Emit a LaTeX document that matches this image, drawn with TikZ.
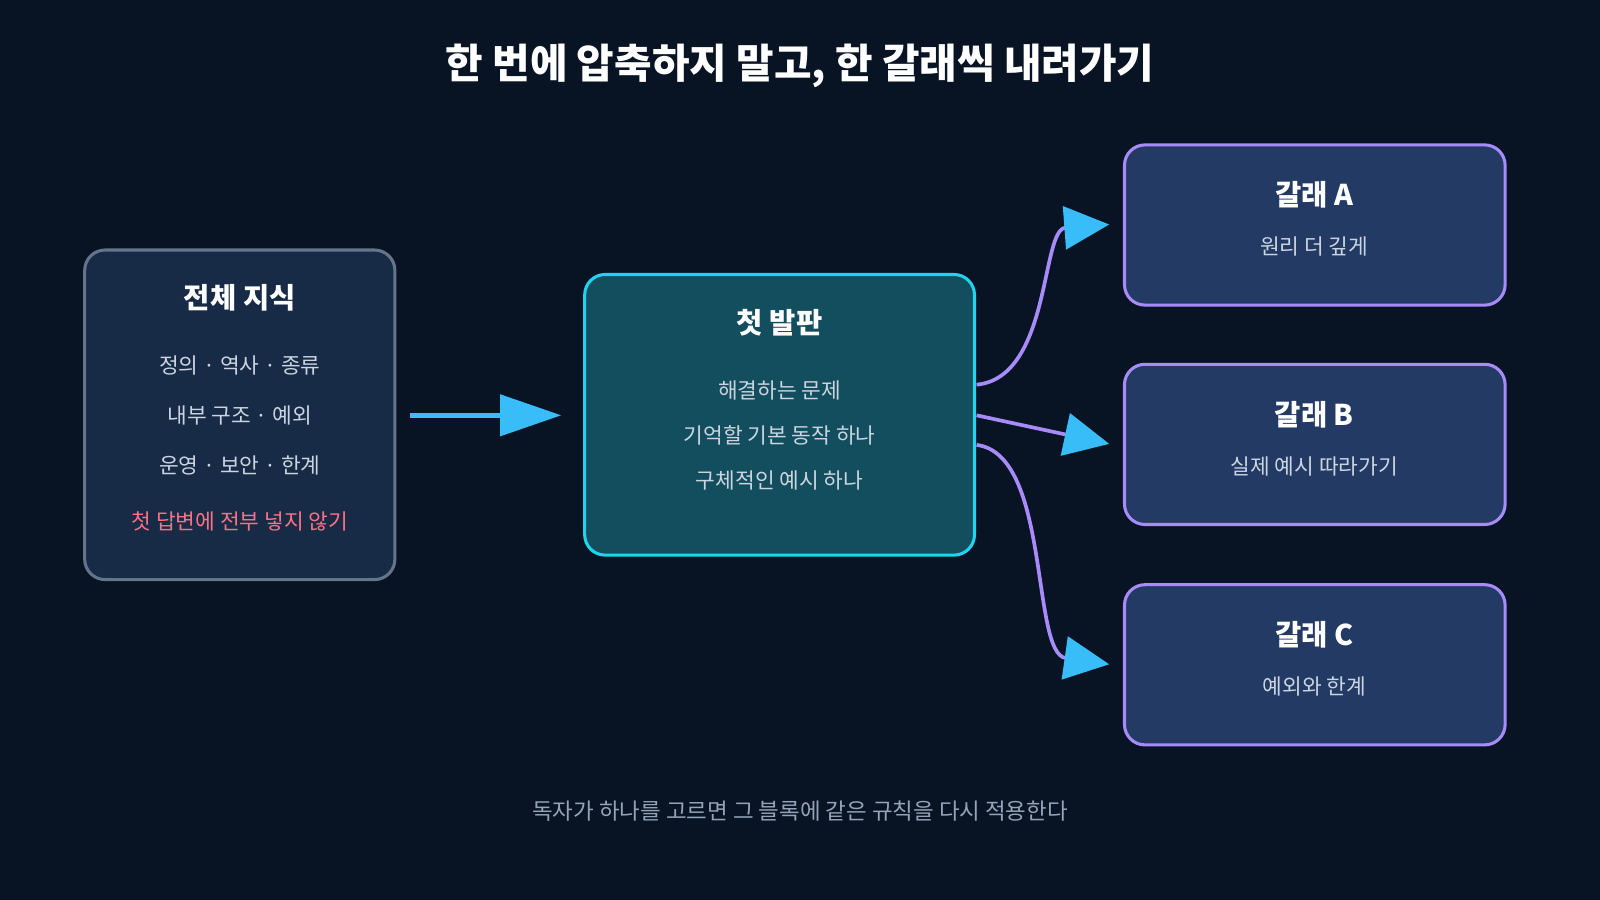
\documentclass[tikz,border=0pt]{standalone}
\usepackage{fontspec}
\setmainfont{Noto Sans CJK KR}
\usetikzlibrary{arrows.meta,positioning}
\definecolor{bgc}{HTML}{081423}
\definecolor{leftfill}{HTML}{172A46}
\definecolor{leftline}{HTML}{64748B}
\definecolor{midfill}{HTML}{134E5E}
\definecolor{midline}{HTML}{22D3EE}
\definecolor{branchfill}{HTML}{233A64}
\definecolor{branchline}{HTML}{A78BFA}
\definecolor{tipc}{HTML}{38BDF8}
\definecolor{subc}{HTML}{CBD5E1}
\definecolor{warnc}{HTML}{FB7185}
\definecolor{footc}{HTML}{94A3B8}
\tikzset{
  box/.style = {draw, line width=1.5pt, rounded corners=10pt, anchor=north west},
  head/.style = {white, font=\bfseries\fontsize{14}{16}\selectfont},
  sub/.style = {subc, font=\fontsize{10.5}{12}\selectfont},
  branch/.style = {line width=1.8pt, branchline, -{Triangle[length=22pt,width=21pt,color=tipc]}}
}
\begin{document}
\begin{tikzpicture}[x = .5pt, y = -.5pt]
\fill[bgc] (0,0) rectangle (1568,882);
\node[white, font=\bfseries\fontsize{20}{24}\selectfont] (title) at (784,65) {한 번에 압축하지 말고, 한 갈래씩 내려가기};
% left box
\draw[box, leftline, fill=leftfill] (83,245) rectangle (387,568);
\node[head] (whole) at (235,292) {전체 지식};
\node[sub] (l1) at (235,358) {정의 · 역사 · 종류};
\node[sub] (l2) at (235,407) {내부 구조 · 예외};
\node[sub] (l3) at (235,456) {운영 · 보안 · 한계};
\node[warnc, font=\fontsize{10.5}{12}\selectfont] (l4) at (235,511) {첫 답변에 전부 넣지 않기};
% middle box
\draw[box, midline, fill=midfill] (573,269) rectangle (955,544);
\node[head] (first) at (764,316) {첫 발판};
\node[sub] (m1) at (764,383) {해결하는 문제};
\node[sub] (m2) at (764,427) {기억할 기본 동작 하나};
\node[sub] (m3) at (764,471) {구체적인 예시 하나};
% branches
\foreach \y/\t/\s/\n in {142/A/원리 더 깊게/a, 357/B/실제 예시 따라가기/b, 573/C/예외와 한계/c}{
  \draw[box, branchline, fill=branchfill] (1102,\y) rectangle (1475,\y+157);
  \node[head] (br\n) at (1288,\y+49) {갈래 \t};
  \node[sub] (brs\n) at (1288,\y+100) {\s};
  \coordinate (in\n) at (1087,\y+78);
}
\coordinate (lout) at (402,407);
\coordinate (min) at (550,407);
\draw[line width=2.5pt, tipc, -{Triangle[length=30pt,width=20pt]}] (lout) -- (min);
\coordinate (oa) at (957,377);
\coordinate (ob) at (957,407);
\coordinate (oc) at (957,436);
\draw[branch] (oa) .. controls (1030,370) and (1020,225) .. (ina);
\draw[branch] (ob) -- (inb);
\draw[branch] (oc) .. controls (1030,445) and (1010,640) .. (inc);
\node[footc, font=\fontsize{11}{13}\selectfont] (foot) at (784,795) {독자가 하나를 고르면 그 블록에 같은 규칙을 다시 적용한다};
\end{tikzpicture}
\end{document}
